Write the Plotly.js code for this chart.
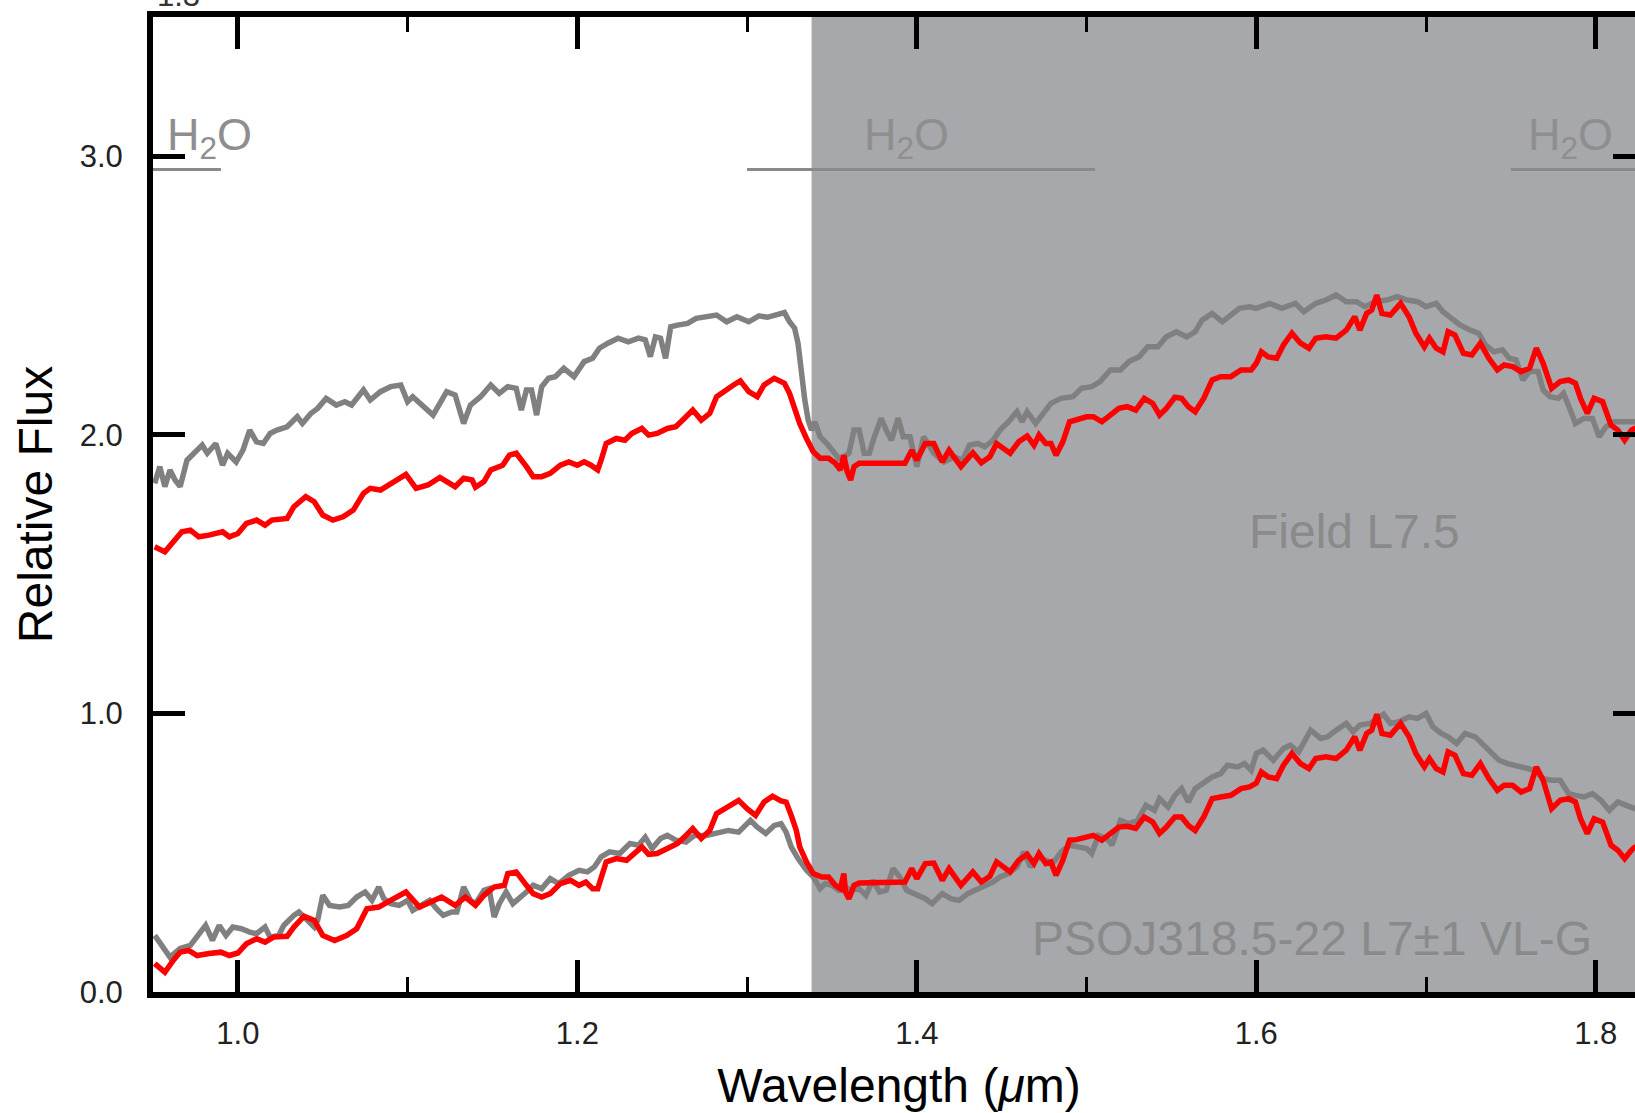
<!DOCTYPE html>
<html>
<head>
<meta charset="utf-8">
<script src="https://cdn.plot.ly/plotly-3.0.1.min.js"></script>
<style>
  html, body { margin: 0; padding: 0; background: #ffffff; overflow: hidden; }
  #chart { width: 1700px; height: 1113px; }
</style>
</head>
<body>
<div id="chart"></div>
<script>
// ---- Data (wavelength in micron, relative flux) ----
// Field L7.5 template (upper grey spectrum)
const fieldTopWl = [0.951,0.954,0.957,0.960,0.963,0.966,0.970,0.974,0.979,0.982,
0.987,0.991,0.994,0.999,1.003,1.007,1.011,1.015,1.019,1.023,
1.029,1.035,1.038,1.043,1.047,1.052,1.058,1.063,1.067,1.074,
1.078,1.084,1.090,1.096,1.100,1.103,1.109,1.115,1.119,1.123,
1.128,1.133,1.137,1.143,1.149,1.154,1.159,1.164,1.167,1.170,
1.173,1.176,1.179,1.183,1.187,1.192,1.198,1.204,1.209,1.213,
1.218,1.224,1.230,1.236,1.240,1.243,1.246,1.249,1.252,1.255,
1.259,1.265,1.270,1.275,1.279,1.282,1.288,1.294,1.301,1.307,
1.312,1.318,1.322,1.325,1.328,1.330,1.332,1.334,1.336,1.338,
1.340,1.343,1.347,1.351,1.354,1.357,1.360,1.363,1.366,1.369,
1.372,1.375,1.379,1.382,1.385,1.389,1.392,1.396,1.400,1.404,
1.410,1.416,1.422,1.427,1.431,1.436,1.440,1.445,1.449,1.454,
1.459,1.462,1.465,1.470,1.473,1.479,1.485,1.492,1.497,1.503,
1.508,1.514,1.520,1.525,1.531,1.536,1.542,1.547,1.553,1.559,
1.564,1.568,1.574,1.580,1.585,1.590,1.596,1.600,1.608,1.615,
1.623,1.628,1.635,1.641,1.647,1.653,1.659,1.664,1.670,1.677,
1.683,1.689,1.695,1.700,1.706,1.710,1.715,1.720,1.726,1.731,
1.735,1.740,1.745,1.749,1.753,1.757,1.761,1.766,1.769,1.773,
1.778,1.781,1.785,1.788,1.793,1.798,1.802,1.806,1.811,1.816,
1.823,1.830];
const fieldTopFlux = [1.826,1.886,1.814,1.874,1.838,1.814,1.909,1.934,1.963,1.934,
1.969,1.891,1.934,1.903,1.945,2.017,1.975,1.969,2.005,2.017,
2.029,2.065,2.041,2.077,2.095,2.131,2.107,2.119,2.107,2.161,
2.125,2.155,2.173,2.179,2.119,2.137,2.101,2.071,2.113,2.155,
2.143,2.041,2.107,2.137,2.179,2.149,2.173,2.167,2.089,2.161,
2.161,2.071,2.173,2.203,2.209,2.239,2.209,2.263,2.275,2.311,
2.329,2.347,2.334,2.347,2.341,2.281,2.352,2.347,2.275,2.388,
2.394,2.400,2.418,2.424,2.430,2.430,2.406,2.424,2.406,2.427,
2.422,2.430,2.439,2.406,2.383,2.329,2.221,2.125,2.053,2.017,
2.047,1.993,1.969,1.934,1.916,1.921,1.934,2.017,2.017,1.934,
1.934,1.993,2.059,2.017,1.981,2.060,1.993,1.993,1.886,1.993,
1.934,1.903,1.921,1.909,1.963,1.969,1.957,1.981,2.017,2.047,
2.083,2.047,2.083,2.041,2.065,2.113,2.131,2.137,2.167,2.173,
2.191,2.233,2.233,2.263,2.280,2.316,2.316,2.352,2.370,2.352,
2.370,2.412,2.436,2.406,2.430,2.454,2.460,2.454,2.472,2.454,
2.472,2.442,2.472,2.484,2.502,2.478,2.478,2.460,2.478,2.484,
2.496,2.484,2.478,2.460,2.472,2.442,2.418,2.395,2.376,2.365,
2.323,2.298,2.305,2.275,2.269,2.197,2.227,2.227,2.161,2.137,
2.131,2.149,2.089,2.041,2.059,2.059,1.993,2.029,2.047,2.047,
2.047,2.040];

// Target spectrum, upper copy (red)
const targetTopWl = [0.951,0.957,0.962,0.967,0.972,0.977,0.983,0.991,0.995,1.000,
1.005,1.011,1.016,1.020,1.029,1.033,1.040,1.045,1.050,1.056,
1.062,1.068,1.074,1.078,1.084,1.090,1.099,1.105,1.112,1.119,
1.128,1.133,1.138,1.140,1.145,1.149,1.156,1.160,1.164,1.170,
1.174,1.179,1.184,1.190,1.195,1.200,1.204,1.208,1.212,1.214,
1.217,1.223,1.228,1.232,1.238,1.242,1.247,1.253,1.258,1.263,
1.268,1.273,1.278,1.282,1.287,1.292,1.296,1.301,1.306,1.310,
1.316,1.322,1.325,1.327,1.331,1.335,1.339,1.343,1.348,1.352,
1.355,1.357,1.359,1.361,1.363,1.366,1.393,1.397,1.400,1.405,
1.410,1.415,1.419,1.426,1.433,1.438,1.443,1.447,1.455,1.460,
1.465,1.469,1.472,1.476,1.479,1.482,1.486,1.490,1.494,1.500,
1.504,1.509,1.514,1.519,1.524,1.529,1.534,1.539,1.543,1.547,
1.552,1.556,1.560,1.564,1.569,1.574,1.579,1.585,1.591,1.597,
1.600,1.603,1.607,1.612,1.616,1.621,1.626,1.631,1.635,1.641,
1.647,1.653,1.658,1.661,1.665,1.668,1.671,1.674,1.679,1.683,
1.685,1.690,1.694,1.699,1.702,1.706,1.710,1.713,1.717,1.722,
1.727,1.732,1.737,1.742,1.746,1.751,1.756,1.761,1.765,1.769,
1.774,1.779,1.784,1.788,1.791,1.795,1.799,1.804,1.809,1.813,
1.817,1.821,1.823,1.830];
const targetTopFlux = [1.598,1.580,1.616,1.652,1.658,1.634,1.640,1.652,1.634,1.646,
1.682,1.694,1.676,1.694,1.700,1.742,1.778,1.760,1.712,1.694,
1.706,1.730,1.790,1.808,1.802,1.826,1.858,1.808,1.820,1.847,
1.814,1.844,1.838,1.812,1.832,1.874,1.891,1.927,1.934,1.886,
1.850,1.850,1.862,1.891,1.903,1.891,1.903,1.891,1.874,1.909,
1.969,1.987,1.981,2.005,2.023,1.999,2.005,2.023,2.029,2.059,
2.089,2.053,2.077,2.137,2.161,2.179,2.194,2.155,2.137,2.179,
2.203,2.185,2.149,2.113,2.041,1.987,1.939,1.916,1.916,1.898,
1.874,1.927,1.868,1.838,1.886,1.898,1.898,1.945,1.909,1.969,
1.969,1.903,1.945,1.886,1.936,1.900,1.921,1.969,1.934,1.975,
1.996,1.963,1.999,1.969,1.969,1.927,1.975,2.047,2.053,2.065,
2.065,2.047,2.071,2.095,2.101,2.089,2.131,2.113,2.071,2.095,
2.135,2.131,2.101,2.083,2.131,2.197,2.209,2.209,2.233,2.233,
2.257,2.298,2.280,2.275,2.323,2.365,2.329,2.311,2.347,2.352,
2.347,2.376,2.424,2.376,2.436,2.448,2.502,2.436,2.430,2.454,
2.472,2.424,2.365,2.316,2.347,2.311,2.298,2.370,2.358,2.293,
2.287,2.329,2.275,2.233,2.251,2.245,2.227,2.239,2.311,2.257,
2.167,2.191,2.197,2.185,2.131,2.077,2.131,2.119,2.035,2.017,
1.981,2.017,2.023,2.030];

// PSO J318.5-22 (lower grey spectrum)
const psoWl = [0.951,0.960,0.966,0.972,0.981,0.985,0.989,0.993,0.997,1.002,
1.007,1.011,1.016,1.019,1.024,1.027,1.033,1.036,1.041,1.045,
1.047,1.050,1.054,1.060,1.065,1.070,1.075,1.079,1.083,1.086,
1.090,1.095,1.100,1.103,1.108,1.113,1.117,1.121,1.126,1.129,
1.133,1.137,1.140,1.145,1.148,1.151,1.154,1.158,1.162,1.167,
1.170,1.174,1.179,1.184,1.189,1.195,1.201,1.206,1.210,1.214,
1.219,1.225,1.231,1.236,1.240,1.244,1.249,1.253,1.258,1.264,
1.269,1.276,1.283,1.289,1.295,1.302,1.306,1.311,1.316,1.320,
1.323,1.326,1.330,1.335,1.339,1.343,1.346,1.350,1.354,1.358,
1.361,1.366,1.370,1.374,1.378,1.382,1.386,1.390,1.394,1.400,
1.405,1.409,1.415,1.420,1.425,1.430,1.436,1.440,1.445,1.449,
1.454,1.459,1.463,1.467,1.471,1.476,1.480,1.485,1.490,1.495,
1.500,1.503,1.507,1.512,1.515,1.520,1.525,1.530,1.535,1.540,
1.543,1.548,1.552,1.556,1.560,1.564,1.569,1.574,1.579,1.583,
1.589,1.593,1.597,1.600,1.604,1.610,1.616,1.620,1.625,1.632,
1.638,1.642,1.647,1.653,1.657,1.661,1.667,1.675,1.679,1.684,
1.690,1.695,1.700,1.704,1.709,1.713,1.718,1.723,1.729,1.734,
1.739,1.743,1.748,1.753,1.759,1.764,1.769,1.774,1.779,1.784,
1.788,1.793,1.798,1.803,1.808,1.813,1.818,1.823,1.830];
const psoFlux = [0.203,0.125,0.156,0.167,0.239,0.185,0.239,0.203,0.233,0.227,
0.215,0.209,0.233,0.197,0.203,0.239,0.275,0.287,0.257,0.233,
0.257,0.347,0.311,0.305,0.311,0.341,0.359,0.329,0.377,0.335,
0.317,0.311,0.329,0.293,0.311,0.329,0.299,0.275,0.287,0.287,
0.377,0.329,0.317,0.365,0.371,0.269,0.317,0.359,0.317,0.340,
0.359,0.383,0.371,0.407,0.389,0.419,0.437,0.431,0.449,0.485,
0.503,0.497,0.533,0.527,0.556,0.515,0.551,0.562,0.545,0.538,
0.562,0.562,0.574,0.580,0.574,0.616,0.592,0.569,0.598,0.604,
0.574,0.521,0.479,0.437,0.413,0.371,0.389,0.383,0.365,0.377,
0.365,0.371,0.347,0.401,0.359,0.365,0.443,0.413,0.365,0.347,
0.335,0.317,0.353,0.335,0.329,0.353,0.371,0.383,0.395,0.413,
0.425,0.449,0.503,0.449,0.485,0.473,0.461,0.503,0.527,0.521,
0.515,0.497,0.562,0.551,0.527,0.616,0.604,0.616,0.670,0.652,
0.694,0.664,0.706,0.730,0.682,0.730,0.754,0.772,0.784,0.814,
0.808,0.820,0.796,0.856,0.868,0.832,0.874,0.886,0.862,0.940,
0.910,0.916,0.940,0.964,0.934,0.958,0.964,0.997,0.964,0.970,
0.988,0.982,1.000,0.952,0.928,0.916,0.892,0.928,0.916,0.886,
0.856,0.832,0.820,0.814,0.802,0.796,0.766,0.760,0.760,0.712,
0.706,0.700,0.712,0.688,0.652,0.682,0.670,0.658,0.660];

// Target spectrum, lower copy (red)
const targetLowWl = [0.951,0.957,0.962,0.966,0.971,0.976,0.983,0.990,0.995,1.000,
1.005,1.011,1.016,1.021,1.029,1.033,1.039,1.045,1.050,1.057,
1.064,1.070,1.076,1.083,1.090,1.099,1.107,1.113,1.120,1.128,
1.134,1.140,1.145,1.151,1.157,1.159,1.164,1.170,1.174,1.179,
1.184,1.190,1.196,1.201,1.205,1.209,1.212,1.217,1.223,1.229,
1.234,1.238,1.242,1.247,1.253,1.259,1.264,1.268,1.273,1.278,
1.282,1.288,1.295,1.300,1.305,1.310,1.315,1.320,1.323,1.326,
1.329,1.331,1.335,1.339,1.344,1.348,1.352,1.355,1.357,1.358,
1.360,1.363,1.366,1.393,1.397,1.400,1.405,1.410,1.415,1.419,
1.426,1.433,1.438,1.443,1.447,1.455,1.460,1.465,1.469,1.472,
1.476,1.479,1.482,1.486,1.490,1.494,1.500,1.504,1.509,1.514,
1.519,1.524,1.529,1.534,1.539,1.543,1.547,1.552,1.556,1.560,
1.564,1.569,1.574,1.579,1.585,1.591,1.596,1.600,1.603,1.607,
1.612,1.616,1.621,1.626,1.631,1.635,1.641,1.647,1.653,1.658,
1.661,1.665,1.668,1.671,1.674,1.679,1.683,1.685,1.690,1.694,
1.699,1.702,1.706,1.710,1.713,1.717,1.722,1.727,1.732,1.737,
1.742,1.746,1.751,1.756,1.761,1.765,1.769,1.774,1.779,1.784,
1.788,1.791,1.795,1.799,1.804,1.809,1.813,1.817,1.821,1.823,
1.830];
const targetLowFlux = [0.102,0.071,0.114,0.143,0.149,0.131,0.138,0.143,0.131,0.140,
0.173,0.191,0.179,0.197,0.200,0.233,0.272,0.257,0.203,0.185,
0.203,0.227,0.299,0.305,0.329,0.359,0.305,0.323,0.341,0.311,
0.341,0.311,0.347,0.377,0.383,0.425,0.431,0.383,0.353,0.341,
0.353,0.389,0.401,0.383,0.395,0.371,0.371,0.467,0.479,0.473,
0.503,0.521,0.494,0.497,0.515,0.533,0.562,0.587,0.551,0.580,
0.640,0.664,0.688,0.658,0.634,0.682,0.703,0.686,0.682,0.634,
0.580,0.521,0.467,0.425,0.413,0.413,0.383,0.371,0.425,0.359,
0.335,0.383,0.391,0.395,0.443,0.407,0.461,0.463,0.401,0.443,
0.383,0.431,0.395,0.415,0.467,0.431,0.473,0.494,0.461,0.497,
0.461,0.467,0.419,0.473,0.545,0.547,0.559,0.562,0.545,0.569,
0.592,0.595,0.587,0.628,0.610,0.569,0.592,0.628,0.628,0.598,
0.580,0.628,0.694,0.700,0.706,0.730,0.736,0.750,0.790,0.772,
0.766,0.814,0.856,0.820,0.802,0.838,0.844,0.838,0.868,0.916,
0.868,0.928,0.940,0.997,0.928,0.922,0.946,0.964,0.916,0.856,
0.808,0.838,0.802,0.790,0.862,0.850,0.784,0.778,0.820,0.766,
0.724,0.742,0.742,0.718,0.730,0.808,0.760,0.658,0.688,0.694,
0.682,0.622,0.569,0.622,0.610,0.527,0.509,0.479,0.509,0.520,
0.520];

// H2O absorption bands (start, end) and the level of their marker lines
const h2oBandStart = [0.95, 1.30, 1.75];
const h2oBandEnd   = [0.99, 1.505, 1.83];
const h2oLineLevel = 2.953;
const h2oLabelX    = [0.983, 1.394, 1.785];
const h2oLabelY    = 3.067;

// Shaded (telluric) region
const shadedBand = [1.338, 1.83];

// Object labels
const labelTexts = ['Field L7.5', 'PSOJ318.5-22 L7\u00b11 VL-G'];
const labelX = [1.658, 1.633];
const labelY = [1.652, 0.191];

// Axis settings
const xRange = [0.95, 1.829];
const yRange = [0, 3.5];
const xTickVals = [1.0, 1.2, 1.4, 1.6, 1.8];
const yTickVals = [0.0, 1.0, 2.0, 3.0];

// ---- Build traces ----
const GREY = '#808080';
const RED = '#ff0000';
const FONT = 'Liberation Sans, Arial, Helvetica, sans-serif';
const LW = 5.5;

const h2oX = [], h2oY = [];
for (let i = 0; i < h2oBandStart.length; i++) {
  h2oX.push(h2oBandStart[i], h2oBandEnd[i], null);
  h2oY.push(h2oLineLevel, h2oLineLevel, null);
}

const traces = [
  { x: h2oX, y: h2oY, mode: 'lines', line: { color: '#8a8a8a', width: 3 }, hoverinfo: 'skip' },
  { x: fieldTopWl, y: fieldTopFlux, mode: 'lines', line: { color: GREY, width: LW }, name: 'Field L7.5' },
  { x: psoWl, y: psoFlux, mode: 'lines', line: { color: GREY, width: LW }, name: 'PSOJ318.5-22' },
  { x: targetTopWl, y: targetTopFlux, mode: 'lines', line: { color: RED, width: LW }, name: 'target' },
  { x: targetLowWl, y: targetLowFlux, mode: 'lines', line: { color: RED, width: LW }, name: 'target' }
];

const annotations = [];
for (let i = 0; i < h2oLabelX.length; i++) {
  annotations.push({ x: h2oLabelX[i], y: h2oLabelY, xref: 'x', yref: 'y', text: 'H<sub>2</sub>O',
    showarrow: false, font: { family: FONT, size: 45, color: '#8e8e8e' } });
}
for (let i = 0; i < labelTexts.length; i++) {
  annotations.push({ x: labelX[i], y: labelY[i], xref: 'x', yref: 'y', text: labelTexts[i],
    showarrow: false, font: { family: FONT, size: 48, color: '#8a8a8a' } });
}
// partially visible label from the panel above (cropped at the top edge)
annotations.push({ x: 0.0168, y: 1.0025, xref: 'paper', yref: 'paper', text: '1.3', showarrow: false,
  xanchor: 'center', yanchor: 'bottom', font: { family: FONT, size: 31, color: '#333333' } });

const axisCommon = {
  showline: true, linewidth: 6, linecolor: '#000000', mirror: 'ticks',
  ticks: 'inside', ticklen: 32, tickwidth: 5, tickcolor: '#000000',
  showgrid: false, zeroline: false, tickformat: '.1f',
  tickfont: { family: FONT, size: 31, color: '#222222' }
};

const layout = {
  width: 1700, height: 1113,
  margin: { l: 153, r: 55, t: 17, b: 121, pad: 0 },
  paper_bgcolor: '#ffffff', plot_bgcolor: '#ffffff',
  showlegend: false,
  font: { family: FONT },
  xaxis: Object.assign({}, axisCommon, {
    range: xRange, tickmode: 'array', tickvals: xTickVals,
    ticklabelstandoff: 9,
    minor: { dtick: 0.1, tick0: 1.0, ticks: 'inside', ticklen: 15, tickwidth: 3, tickcolor: '#000000', showgrid: false },
    title: { text: 'Wavelength (<i>\u03bc</i>m)', font: { family: FONT, size: 48, color: '#000000' }, standoff: 20 }
  }),
  yaxis: Object.assign({}, axisCommon, {
    range: yRange, tickmode: 'array', tickvals: yTickVals,
    ticklabelstandoff: 18,
    title: { text: 'Relative Flux', font: { family: FONT, size: 48, color: '#000000' }, standoff: 14 }
  }),
  shapes: [{
    type: 'rect', xref: 'x', yref: 'paper', x0: shadedBand[0], x1: shadedBand[1], y0: 0, y1: 1,
    fillcolor: '#a6a8ac', line: { width: 0 }, layer: 'below'
  }],
  annotations: annotations
};

Plotly.newPlot('chart', traces, layout, { staticPlot: true, displayModeBar: false });
</script>
</body>
</html>
